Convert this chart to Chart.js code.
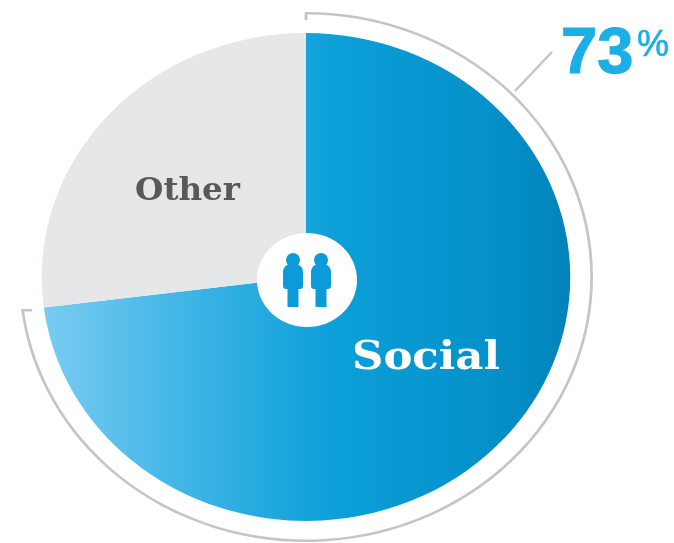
<!DOCTYPE html>
<html>
<head>
<meta charset="utf-8">
<style>
html,body{margin:0;padding:0;background:#fff;overflow:hidden}
#wrap{width:674px;height:543px;position:relative}
</style>
<script src="https://cdn.jsdelivr.net/npm/chart.js@4/dist/chart.umd.min.js"></script>
</head>
<body>
<div id="wrap"><canvas id="c" width="674" height="543"></canvas></div>
<script>
const categories = ['Social', 'Other'];
const shares = [73, 27];
const headline = '73';
const headlineUnit = '%';

const STRETCH = 1.083;
const pieFill = (ctx) => {
  if (ctx.dataIndex === 1) return '#e6e7e8';
  const area = ctx.chart.chartArea;
  if (!area) return '#0c9fd8';
  const cx = (area.left + area.right) / 2;
  const r = (area.bottom - area.top) / 2;
  const g = ctx.chart.ctx.createLinearGradient(cx - r, 0, cx + r, 0);
  g.addColorStop(0, '#84cff3');
  g.addColorStop(0.3, '#3db4e6');
  g.addColorStop(0.55, '#0c9fd8');
  g.addColorStop(0.8, '#0592cb');
  g.addColorStop(1, '#0080b6');
  return g;
};

function fitText(c, text, x, baseline, width) {
  const w = c.measureText(text).width;
  c.save();
  c.translate(x, baseline);
  c.scale(width / w, 1);
  c.fillText(text, 0, 0);
  c.restore();
}

const stretch = {
  id: 'stretch',
  beforeDatasetsDraw(chart) {
    const c = chart.ctx, m = chart.getDatasetMeta(0).data[0];
    c.save();
    c.translate(m.x, 0);
    c.scale(STRETCH, 1);
    c.translate(-m.x, 0);
  },
  afterDatasetsDraw(chart) {
    const c = chart.ctx, ring = chart.getDatasetMeta(0).data[0];
    // ring end ticks, still in stretched space
    c.strokeStyle = '#c4c5c7';
    c.lineWidth = 2.5;
    const endA = -Math.PI / 2 + 2 * Math.PI * shares[0] / 100;
    const ro = ring.outerRadius;
    c.beginPath();
    c.moveTo(ring.x, ring.y - ro);
    c.lineTo(ring.x, ring.y - ro + 8);
    c.moveTo(ring.x + Math.cos(endA) * ro, ring.y + Math.sin(endA) * ro);
    c.lineTo(ring.x + Math.cos(endA) * (ro - 10), ring.y + Math.sin(endA) * ro);
    c.stroke();
    c.restore();

    // leader line
    c.strokeStyle = '#c4c5c7';
    c.lineWidth = 2.5;
    c.beginPath();
    c.moveTo(515, 91);
    c.lineTo(552, 52);
    c.stroke();

    // centre badge
    c.fillStyle = '#ffffff';
    c.beginPath();
    c.ellipse(307, 280, 50, 47, 0, 0, Math.PI * 2);
    c.fill();
    c.fillStyle = '#0a9bd8';
    [293, 321].forEach((x) => {
      c.beginPath();
      c.arc(x, 260, 7, 0, Math.PI * 2);
      c.fill();
      c.beginPath();
      c.roundRect(x - 10, 264, 20, 25, [8, 8, 3, 3]);
      c.fill();
      c.fillRect(x - 5.5, 282, 11, 25);
    });

    // labels
    c.textBaseline = 'alphabetic';
    c.textAlign = 'left';
    c.fillStyle = '#58595b';
    c.font = '700 31px "DejaVu Serif"';
    fitText(c, categories[1], 135, 200, 105);
    c.fillStyle = '#ffffff';
    c.font = '700 39px "DejaVu Serif"';
    fitText(c, categories[0], 352, 369, 148);
    c.fillStyle = '#1cafe6';
    c.strokeStyle = '#1cafe6';
    c.font = '700 65px "Liberation Sans"';
    c.fillText(headline, 561, 73);
    c.lineWidth = 1.2;
    c.strokeText(headline, 561, 73);
    c.font = '400 36px "Liberation Sans"';
    c.fillText(headlineUnit, 637, 56);
    c.lineWidth = 0.6;
    c.strokeText(headlineUnit, 637, 56);
  }
};

new Chart(document.getElementById('c'), {
  type: 'doughnut',
  data: {
    labels: categories,
    datasets: [
      { data: shares, weight: 2.5, backgroundColor: ['#c4c5c7', 'rgba(0,0,0,0)'], borderWidth: 0 },
      { data: shares, weight: 18.5, backgroundColor: 'rgba(0,0,0,0)', borderWidth: 0 },
      { data: shares, weight: 224, backgroundColor: pieFill, borderWidth: 0 }
    ]
  },
  options: {
    responsive: false,
    animation: false,
    cutout: 20,
    layout: { padding: { top: 12, bottom: 1, left: 0, right: 62 } },
    plugins: { legend: { display: false }, tooltip: { enabled: false } }
  },
  plugins: [stretch]
});
</script>
</body>
</html>
